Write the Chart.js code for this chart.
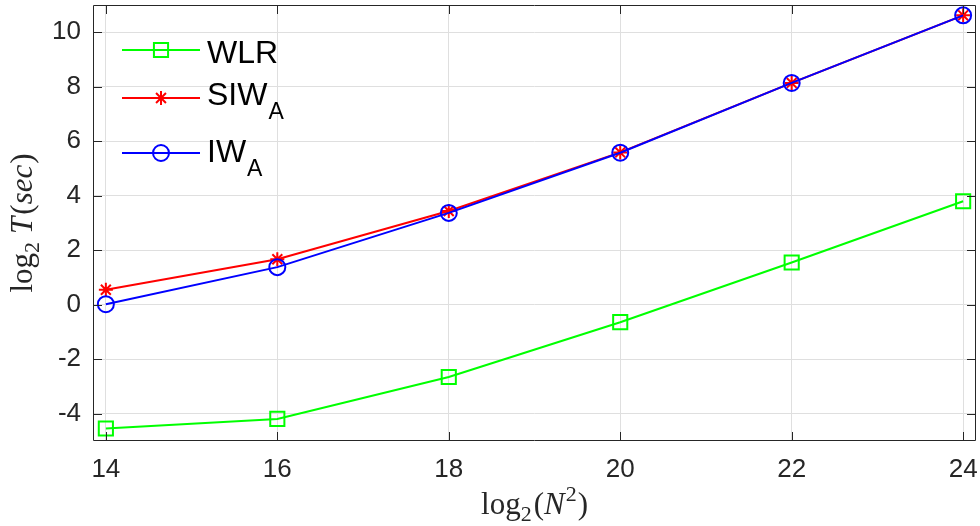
<!DOCTYPE html>
<html>
<head>
<meta charset="utf-8">
<script src="https://cdn.jsdelivr.net/npm/chart.js@4/dist/chart.umd.min.js"></script>
<style>
html,body{margin:0;padding:0;background:#ffffff;}
#wrap{position:relative;width:980px;height:526px;}
</style>
</head>
<body>
<div id="wrap"><canvas id="c" width="980" height="526"></canvas></div>
<script>
// ---- data ----
const xValues = [14, 16, 18, 20, 22, 24];
const wlrValues = [-4.54, -4.19, -2.65, -0.64, 1.55, 3.80];
const siwValues = [0.55, 1.67, 3.44, 5.59, 8.14, 10.62];
const iwValues  = [0.02, 1.38, 3.37, 5.58, 8.14, 10.62];
const xTicks = [14, 16, 18, 20, 22, 24];
const yTicks = [-4, -2, 0, 2, 4, 6, 8, 10];
const seriesNames = ['WLR', 'SIW', 'IW'];
const seriesSubs = ['', 'A', 'A'];

const AXIS = '#262626';
const GRID = '#dfdfdf';

function pts(ys){ return xValues.map((x,i)=>({x:x, y:ys[i]})); }

const series = [
  {label: seriesNames[0], sub: seriesSubs[0], data: pts(wlrValues), color: '#00ff00', style: 'rect', r: 10, order: 2},
  {label: seriesNames[1], sub: seriesSubs[1], data: pts(siwValues), color: '#ff0000', style: 'star', r: 7, order: 1},
  {label: seriesNames[2], sub: seriesSubs[2], data: pts(iwValues), color: '#0000ff', style: 'circle', r: 8, order: 0}
];

function drawRuns(ctx, runs, x, y) {
  let total = 0;
  runs.forEach(r => { ctx.font = r.font; r.w = ctx.measureText(r.text).width + (r.gap || 0); total += r.w; });
  let cx = x - total / 2;
  runs.forEach(r => {
    ctx.font = r.font;
    ctx.fillText(r.text, cx, y + (r.dy || 0));
    cx += r.w;
  });
}

const boxPlugin = {
  id: 'boxPlugin',
  afterDraw(chart) {
    const ctx = chart.ctx;
    const a = chart.chartArea;
    const xs = chart.scales.x, ys = chart.scales.y;
    ctx.save();
    ctx.strokeStyle = AXIS;
    ctx.lineWidth = 1;
    ctx.beginPath();
    ctx.rect(a.left + 0.5, a.top + 0.5, a.right - a.left - 1, a.bottom - a.top - 1);
    ctx.stroke();
    const TL = 9;
    ctx.beginPath();
    xTicks.forEach(v => {
      const px = Math.round(xs.getPixelForValue(v)) + 0.5;
      ctx.moveTo(px, a.bottom); ctx.lineTo(px, a.bottom - TL);
      ctx.moveTo(px, a.top); ctx.lineTo(px, a.top + TL);
    });
    yTicks.forEach(v => {
      const py = Math.round(ys.getPixelForValue(v)) + 0.5;
      ctx.moveTo(a.left, py); ctx.lineTo(a.left + TL, py);
      ctx.moveTo(a.right, py); ctx.lineTo(a.right - TL, py);
    });
    ctx.stroke();

    // legend
    const rowsY = [50, 98, 153];
    const baseY = [63, 105, 162];
    series.forEach((s, i) => {
      const y = rowsY[i];
      ctx.strokeStyle = s.color;
      ctx.lineWidth = 2;
      ctx.beginPath();
      ctx.moveTo(122, y); ctx.lineTo(200, y);
      ctx.stroke();
      ctx.fillStyle = 'rgba(0,0,0,0)';
      Chart.helpers.drawPoint(ctx, {pointStyle: s.style, radius: s.r, rotation: 0, borderWidth: 2}, 161, y);
      ctx.fillStyle = '#000000';
      ctx.textAlign = 'left';
      ctx.textBaseline = 'alphabetic';
      ctx.font = '32px "Liberation Sans", Arial, sans-serif';
      ctx.fillText(s.label, 207, baseY[i]);
      if (s.sub) {
        const w = ctx.measureText(s.label).width;
        ctx.font = '23px "Liberation Sans", Arial, sans-serif';
        ctx.fillText(s.sub, 207 + w + 1, baseY[i] + 14);
      }
    });

    // axis titles
    ctx.fillStyle = AXIS;
    ctx.textBaseline = 'alphabetic';
    ctx.textAlign = 'left';
    const SER = '"Liberation Serif", "DejaVu Serif", serif';
    const big = '31px ' + SER, ital = 'italic 31px ' + SER, small = '22px ' + SER;
    drawRuns(ctx, [
      {text: 'log', font: big},
      {text: '2', font: small, dy: 7, gap: 2},
      {text: '(', font: big},
      {text: 'N', font: ital, gap: 1},
      {text: '2', font: small, dy: -13, gap: 1},
      {text: ')', font: big}
    ], (a.left + a.right) / 2, 514);

    ctx.save();
    ctx.translate(32, (a.top + a.bottom) / 2);
    ctx.rotate(-Math.PI / 2);
    drawRuns(ctx, [
      {text: 'log', font: big},
      {text: '2', font: small, dy: 7, gap: 8},
      {text: 'T', font: ital, gap: 2},
      {text: '(', font: big},
      {text: 'sec', font: ital, gap: 1},
      {text: ')', font: big}
    ], 0, 0);
    ctx.restore();
    ctx.restore();
  }
};

new Chart(document.getElementById('c'), {
  type: 'line',
  data: {
    datasets: series.map(s => ({
      label: s.label + s.sub,
      data: s.data,
      borderColor: s.color,
      backgroundColor: 'rgba(0,0,0,0)',
      borderWidth: 2,
      pointStyle: s.style,
      pointRadius: s.r,
      pointBorderColor: s.color,
      pointBackgroundColor: 'rgba(0,0,0,0)',
      pointBorderWidth: 2,
      tension: 0,
      fill: false,
      order: s.order
    }))
  },
  options: {
    responsive: false,
    animation: false,
    devicePixelRatio: 1,
    layout: {autoPadding: false, padding: {left: 0, right: 4, top: 5, bottom: 0}},
    plugins: {legend: {display: false}, tooltip: {enabled: false}},
    scales: {
      x: {
        type: 'linear',
        min: 13.85, max: 24.15,
        afterBuildTicks: s => { s.ticks = xTicks.map(v => ({value: v})); },
        afterFit: s => { s.height = 85; s.paddingLeft = 0; s.paddingRight = 0; },
        ticks: {font: {family: '"Liberation Sans", Arial, sans-serif', size: 26}, color: AXIS, padding: 13, maxRotation: 0, autoSkip: false},
        grid: {color: GRID, lineWidth: 1, drawTicks: false},
        border: {display: false}
      },
      y: {
        type: 'linear',
        min: -5, max: 11,
        afterBuildTicks: s => { s.ticks = yTicks.map(v => ({value: v})); },
        afterFit: s => { s.width = 93; s.paddingTop = 0; s.paddingBottom = 0; },
        ticks: {font: {family: '"Liberation Sans", Arial, sans-serif', size: 26}, color: AXIS, padding: 12, autoSkip: false},
        grid: {color: GRID, lineWidth: 1, drawTicks: false},
        border: {display: false}
      }
    }
  },
  plugins: [boxPlugin]
});
</script>
</body>
</html>
